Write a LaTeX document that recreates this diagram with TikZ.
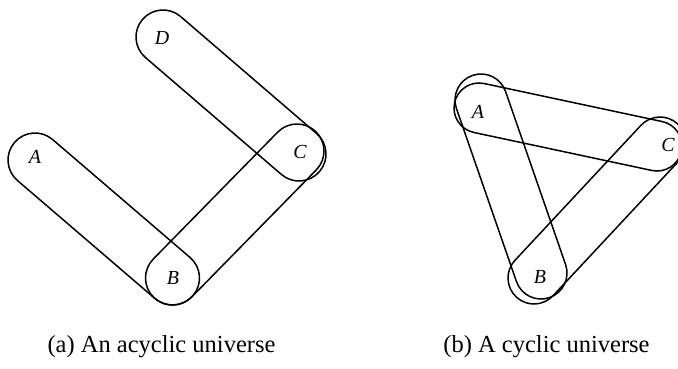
\documentclass[tikz,border=0pt]{standalone}
\usepackage{fontspec}
\setmainfont{Liberation Serif}
\usetikzlibrary{calc}
\tikzset{
  capsule/.style={draw, line width=1.5bp},
  lbl/.style={font=\fontsize{20}{20}\selectfont\itshape, inner sep=0pt},
  captxt/.style={font=\fontsize{24.6}{26}\selectfont, anchor=base, inner sep=0pt}
}
\newcommand\drawcapsule[3]{%
  \draw[capsule] let \p1=($(#2)-(#1)$), \n1={atan2(\y1,\x1)} in
    ($(#1)+(\n1+90:#3)$) arc[start angle=\n1+90, delta angle=180, radius=#3]
    -- ($(#2)+(\n1-90:#3)$) arc[start angle=\n1-90, delta angle=180, radius=#3] -- cycle;}
\begin{document}
\begin{tikzpicture}[x=1bp,y=1bp]
\useasboundingbox (0,0) rectangle (678,368);
% panel (a)
\coordinate (Aa) at (35,208);
\coordinate (Ba) at (172.5,90);
\coordinate (CaB) at (297,217);
\coordinate (CaD) at (299,214);
\coordinate (Da) at (163,331);
\drawcapsule{Aa}{Ba}{27}
\drawcapsule{Ba}{CaB}{27}
\drawcapsule{Da}{CaD}{27}
\node[lbl] (la) at (35,211) {A};
\node[lbl] (lb) at (173,90) {B};
\node[lbl] (lc) at (300,216) {C};
\node[lbl] (ld) at (162,330) {D};
% panel (b)
\coordinate (AbB) at (481,268);
\coordinate (AbC) at (479,260);
\coordinate (BbA) at (541,95);
\coordinate (BbC) at (534,90);
\coordinate (CbA) at (657,222);
\coordinate (CbB) at (660,225);
\drawcapsule{AbB}{BbA}{26}
\drawcapsule{AbC}{CbA}{25}
\drawcapsule{BbC}{CbB}{26}
\node[lbl] (lA) at (478,256) {A};
\node[lbl] (lB) at (540,91) {B};
\node[lbl] (lC) at (668,223) {C};
% captions
\node[captxt] (capa) at (161.5,16) {(a) An acyclic universe};
\node[captxt] (capb) at (546.5,16) {(b) A cyclic universe};
\end{tikzpicture}
\end{document}
